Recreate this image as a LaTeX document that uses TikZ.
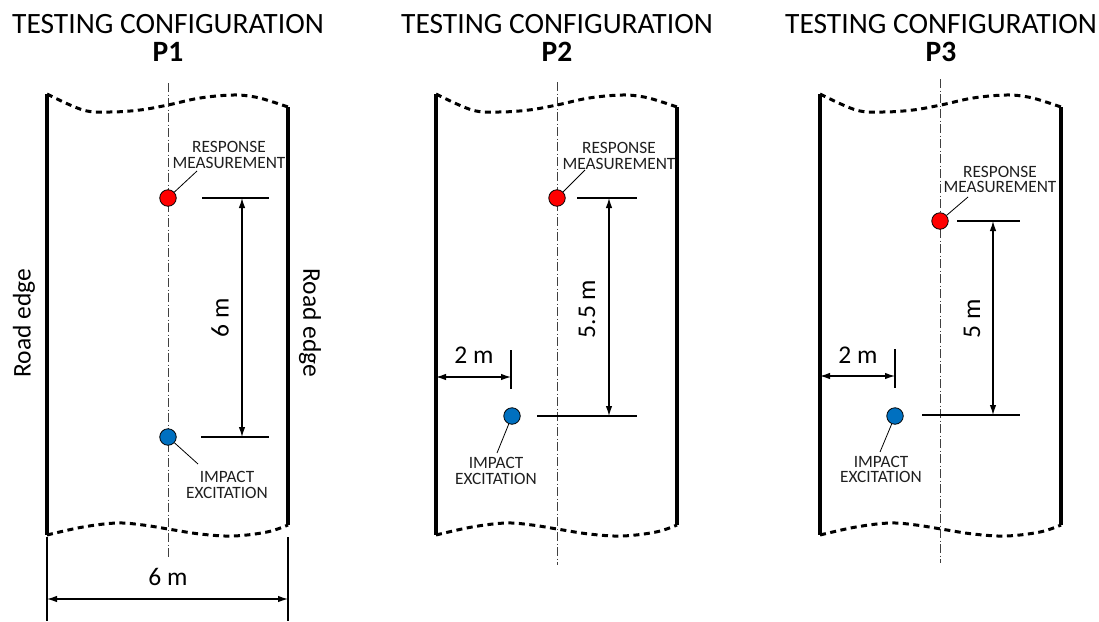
\documentclass[tikz,border=0pt]{standalone}
\usepackage{fontspec}
\setmainfont{Carlito}
\usetikzlibrary{arrows.meta}
\definecolor{ImpactBlue}{RGB}{0,112,192}
\definecolor{RespRed}{RGB}{255,0,0}
\begin{document}
\begin{tikzpicture}[x=1pt,y=-1pt,
 roadedge/.style={line width=3.2pt},
 wavy/.style={line width=3pt, dash pattern=on 6pt off 4.5pt},
 centerln/.style={line width=0.9pt, black!75, dash pattern=on 9pt off 2.5pt on 1pt off 2.5pt},
 dimln/.style={line width=1.2pt},
 dimarrow/.style={line width=1.2pt, {Latex[length=10pt,width=6.5pt]}-{Latex[length=10pt,width=6.5pt]}},
 leader/.style={line width=0.8pt},
 mdot/.style={circle, draw=black, line width=0.8pt, minimum size=16.5pt, inner sep=0pt},
 lbl/.style={font=\fontsize{17.3}{15.5}\selectfont, align=center, inner sep=0pt, text=black!88},
 big/.style={font=\fontsize{25.5}{28}\selectfont, inner sep=0pt},
 ttl/.style={font=\fontsize{29.5}{30}\selectfont, inner sep=0pt, anchor=base},
]
\useasboundingbox (0,0) rectangle (1099,621);

% ---------- common road panel ----------
\newcommand{\roadpanel}[2]{%
  \node[ttl] (t#1) at (168,33) {TESTING CONFIGURATION};
  \node[ttl] (p#1) at (168,61) {\bfseries P#1};
  \draw[roadedge] (47,94) -- (47,535);
  \draw[roadedge] (288,107) -- (288,525);
  \draw[wavy] plot[smooth, tension=0.6] coordinates {(47,94) (83,110) (110,112) (140,110) (168,105) (200,98) (233,95) (255,97) (273,102) (288,107)};
  \draw[wavy] plot[smooth, tension=0.6] coordinates {(47,535) (83,527) (117,523) (143,525) (168,529) (200,534) (233,536) (267,532) (288,525)};
}

% ================= P1 =================
\begin{scope}
\draw[centerln] (168,83) -- (168,557);
\roadpanel{1}{}
\node[big, rotate=90] (re1l) at (24,323) {Road edge};
\node[big, rotate=-90] (re1r) at (310,323) {Road edge};
% response
\node[mdot, fill=RespRed] (r1) at (168,198) {};
\coordinate (r1e) at (197,171);
\draw[leader] (r1) -- (r1e);
\node[lbl] (r1t) at (229,155) {RESPONSE\\MEASUREMENT};
% impact
\node[mdot, fill=ImpactBlue] (b1) at (168,437) {};
\coordinate (b1e) at (198,464);
\draw[leader] (b1) -- (b1e);
\node[lbl] (b1t) at (227,485) {IMPACT\\EXCITATION};
% vertical dimension
\coordinate (v1a) at (242,198);
\coordinate (v1b) at (242,437);
\draw[dimln] (202,198) -- (269,198);
\draw[dimln] (201,437) -- (269,437);
\draw[dimarrow] (v1a) -- (v1b);
\node[big, rotate=90] (d1) at (220,318) {6 m};
% width dimension
\coordinate (w1a) at (47,599);
\coordinate (w1b) at (288,599);
\draw[dimln] (47,537) -- (47,621);
\draw[dimln] (288,537) -- (288,621);
\draw[dimarrow] (w1a) -- (w1b);
\node[big] (w1) at (168,577) {6 m};
\end{scope}

% ================= P2 =================
\begin{scope}[xshift=389pt]
\draw[centerln] (168,82) -- (168,565);
\roadpanel{2}{}
\node[mdot, fill=RespRed] (r2) at (168,198) {};
\coordinate (r2e) at (196,170);
\draw[leader] (r2) -- (r2e);
\node[lbl] (r2t) at (230,156) {RESPONSE\\MEASUREMENT};
\node[mdot, fill=ImpactBlue] (b2) at (123,416) {};
\coordinate (b2e) at (108,453);
\draw[leader] (b2) -- (b2e);
\node[lbl] (b2t) at (107,471) {IMPACT\\EXCITATION};
\coordinate (v2a) at (220,198);
\coordinate (v2b) at (220,416);
\draw[dimln] (188,198) -- (248,198);
\draw[dimln] (148,416) -- (248,416);
\draw[dimarrow] (v2a) -- (v2b);
\node[big, rotate=90] (d2) at (198,309) {5.5 m};
\coordinate (h2a) at (47,377);
\coordinate (h2b) at (122,377);
\draw[dimln] (122,350) -- (122,389);
\draw[dimarrow] (h2a) -- (h2b);
\node[big] (h2) at (85,355) {2 m};
\end{scope}

% ================= P3 =================
\begin{scope}[xshift=773pt]
\draw[centerln] (167,79) -- (167,563);
\roadpanel{3}{}
\node[mdot, fill=RespRed] (r3) at (167,221) {};
\coordinate (r3e) at (195,197);
\draw[leader] (r3) -- (r3e);
\node[lbl] (r3t) at (227,179.5) {RESPONSE\\MEASUREMENT};
\node[mdot, fill=ImpactBlue] (b3) at (122,416) {};
\coordinate (b3e) at (107,452);
\draw[leader] (b3) -- (b3e);
\node[lbl] (b3t) at (108,469.5) {IMPACT\\EXCITATION};
\coordinate (v3a) at (220,221);
\coordinate (v3b) at (220,415);
\draw[dimln] (184,221) -- (247,221);
\draw[dimln] (149,415) -- (247,415);
\draw[dimarrow] (v3a) -- (v3b);
\node[big, rotate=90] (d3) at (199,319) {5 m};
\coordinate (h3a) at (47,376);
\coordinate (h3b) at (122,376);
\draw[dimln] (122,349) -- (122,388);
\draw[dimarrow] (h3a) -- (h3b);
\node[big] (h3) at (85,355) {2 m};
\end{scope}
\end{tikzpicture}
\end{document}
